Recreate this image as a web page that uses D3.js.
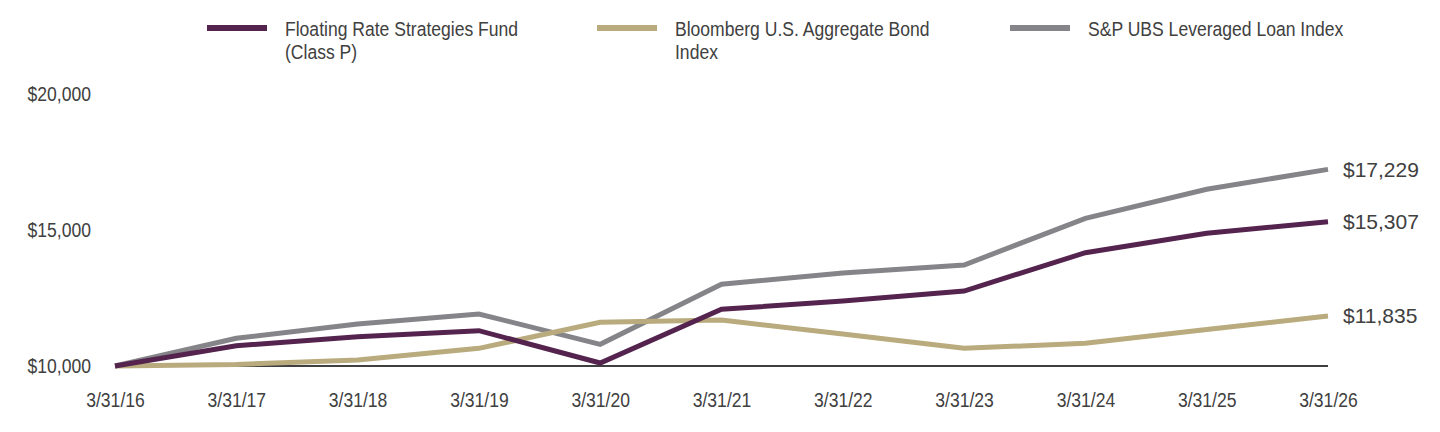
<!DOCTYPE html>
<html><head><meta charset="utf-8">
<script src="https://cdn.jsdelivr.net/npm/d3@7"></script>
<style>
html,body{margin:0;padding:0;background:#fff;}
svg{display:block;}
</style></head>
<body>
<svg id="chart" width="1440" height="432"></svg>
<script>
const dates = ["3/31/16","3/31/17","3/31/18","3/31/19","3/31/20","3/31/21","3/31/22","3/31/23","3/31/24","3/31/25","3/31/26"];
const fundValues = [10000,10746,11077,11298,10110,12085,12390,12757,14165,14879,15307];
const bondValues = [10000,10055,10220,10650,11606,11691,11176,10650,10835,11342,11835];
const loanValues = [10000,11018,11544,11912,10797,13003,13419,13713,15430,16496,17229];
const yTicks = [10000,15000,20000];
const seriesNames = [["Floating Rate Strategies Fund","(Class P)"],["Bloomberg U.S. Aggregate Bond","Index"],["S&P UBS Leveraged Loan Index"]];
const endLabels = ["$15,307","$11,835","$17,229"];

const colors = ["#54244f","#b9ab7d","#858589"];
const series = [fundValues, bondValues, loanValues];

const svg = d3.select("#chart");
const font = "'Liberation Sans',Arial,sans-serif";
const txtColor = "#404040";
const condensed = "scale(0.9,1)";

const x = d3.scalePoint().domain(dates).range([115,1328]);
const y = d3.scaleLinear().domain([10000,20000]).range([366,94]);

// y axis labels
const yAxis = d3.axisLeft(y).tickValues(yTicks).tickSize(0).tickPadding(0)
  .tickFormat(d => "$" + d3.format(",")(d));
const ya = svg.append("g").attr("transform","translate(91,0)").call(yAxis);
ya.select(".domain").remove();
ya.selectAll("text").attr("font-family",font).attr("font-size",19.5)
  .attr("fill",txtColor).attr("transform",condensed);

// x axis labels
const xAxis = d3.axisBottom(x).tickSize(0).tickPadding(0);
const xa = svg.append("g").attr("transform","translate(0,393)").call(xAxis);
xa.select(".domain").remove();
xa.selectAll("text").attr("font-family",font).attr("font-size",19.5)
  .attr("fill",txtColor).attr("transform",condensed);

// baseline
svg.append("line").attr("x1",x(dates[0])).attr("x2",x(dates[dates.length-1]))
  .attr("y1",y(10000)).attr("y2",y(10000)).attr("stroke","#404040").attr("stroke-width",2);

const line = d3.line().x((d,i)=>x(dates[i])).y(d=>y(d));
// draw order: loan (gray), bond (tan), fund (purple) on top
[2,1,0].forEach(k=>{
  svg.append("path").datum(series[k]).attr("d",line).attr("fill","none")
    .attr("stroke",colors[k]).attr("stroke-width",5).attr("stroke-linejoin","miter");
});

// end labels
series.forEach((s,k)=>{
  svg.append("text").attr("x",x(dates[dates.length-1])+15).attr("y",y(s[s.length-1]))
    .attr("dy","0.35em").attr("font-family",font)
    .attr("font-size",21).attr("fill",txtColor).text(endLabels[k]);
});

// legend
const legX = [207,597,1010];
seriesNames.forEach((names,k)=>{
  const g = svg.append("g");
  g.append("line").attr("x1",legX[k]).attr("x2",legX[k]+60).attr("y1",28).attr("y2",28)
    .attr("stroke",colors[k]).attr("stroke-width",6);
  names.forEach((t,j)=>{
    g.append("g").attr("transform",`translate(${legX[k]+78},${29+j*23})`)
      .append("text").attr("transform",condensed).attr("dy","0.35em")
      .attr("font-family",font).attr("font-size",19.5).attr("fill",txtColor).text(t);
  });
});
</script>
</body></html>
